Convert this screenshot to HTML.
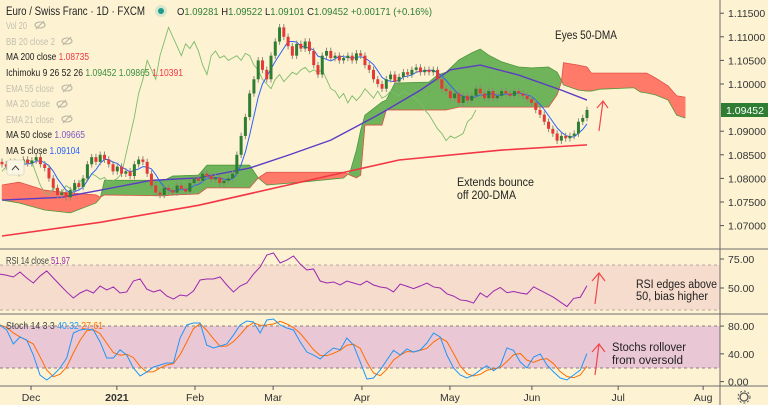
<!DOCTYPE html>
<html><head><meta charset="utf-8">
<style>
html,body{margin:0;padding:0;background:#fdf3d3;}
body{width:768px;height:405px;overflow:hidden;font-family:"Liberation Sans",sans-serif;}
svg{display:block}
</style></head>
<body>
<svg id="chart" width="768" height="405" xmlns="http://www.w3.org/2000/svg" font-family="Liberation Sans, sans-serif">
<rect x="0" y="0" width="768" height="405" fill="#fdf3d3"/>
<rect x="0" y="265" width="720" height="45" fill="#f5dccc"/>
<line x1="0" y1="265" x2="720" y2="265" stroke="#b9a7a0" stroke-dasharray="3,3"/>
<line x1="0" y1="310" x2="720" y2="310" stroke="#b9a7a0" stroke-dasharray="3,3"/>
<rect x="0" y="326" width="720" height="42" fill="#eac7d5"/>
<line x1="0" y1="326" x2="720" y2="326" stroke="#8a7d80" stroke-dasharray="3,3"/>
<line x1="0" y1="368" x2="720" y2="368" stroke="#8a7d80" stroke-dasharray="3,3"/>
<g id="cloud"></g>
<g id="lines"></g>
<g id="candles"></g>
<g id="osc"></g>
<line x1="0" y1="249" x2="768" y2="249" stroke="#6b6b6b"/>
<line x1="0" y1="314" x2="768" y2="314" stroke="#6b6b6b"/>
<line x1="0" y1="386" x2="768" y2="386" stroke="#6b6b6b"/>
<line x1="720" y1="0" x2="720" y2="405" stroke="#6b6b6b"/>
<g id="axes" font-size="10.5" fill="#333"></g>
<g font-size="11.5" fill="#1f1f1f" lengthAdjust="spacingAndGlyphs">
<text x="555" y="39" textLength="62" lengthAdjust="spacingAndGlyphs">Eyes 50-DMA</text>
<text x="457" y="186" textLength="77" lengthAdjust="spacingAndGlyphs">Extends bounce</text>
<text x="457" y="199" textLength="59" lengthAdjust="spacingAndGlyphs">off 200-DMA</text>
<text x="636" y="288" textLength="81" lengthAdjust="spacingAndGlyphs">RSI edges above</text>
<text x="636" y="300" textLength="72" lengthAdjust="spacingAndGlyphs">50, bias higher</text>
<text x="612" y="351" textLength="74" lengthAdjust="spacingAndGlyphs">Stochs rollover</text>
<text x="612" y="364" textLength="71" lengthAdjust="spacingAndGlyphs">from oversold</text>
</g>
<g stroke="#f2474b" stroke-width="1.2" fill="none">
<path d="M599 131 L603 101 M597 108 L603 101 L608 108"/>
<path d="M595 304 L599 273 M592 281 L599 273 L605 281"/>
<path d="M595 375 L599 344 M592 352 L599 344 L605 352"/>
</g>
<g font-size="12">
<text x="6" y="15" fill="#222" textLength="139" lengthAdjust="spacingAndGlyphs">Euro / Swiss Franc · 1D · FXCM</text>
<circle cx="161" cy="11" r="6" fill="#d7e6cf"/>
<circle cx="161" cy="11" r="3" fill="#1e9a8a"/>
<text x="177" y="15" font-size="10.5" fill="#2e7d32" textLength="255" lengthAdjust="spacingAndGlyphs"><tspan fill="#222">O</tspan>1.09281 <tspan fill="#222">H</tspan>1.09522 <tspan fill="#222">L</tspan>1.09101 <tspan fill="#222">C</tspan>1.09452 +0.00171 (+0.16%)</text>
</g>
<g font-size="10">
<text x="6" y="29" fill="#c4bfae" textLength="21" lengthAdjust="spacingAndGlyphs">Vol 20</text>
<text x="6" y="45" fill="#c4bfae" textLength="49" lengthAdjust="spacingAndGlyphs">BB 20 close 2</text>
<text x="6" y="60" fill="#222" textLength="83" lengthAdjust="spacingAndGlyphs">MA 200 close <tspan fill="#f23645">1.08735</tspan></text>
<text x="6" y="76" fill="#222" textLength="177" lengthAdjust="spacingAndGlyphs">Ichimoku 9 26 52 26 <tspan fill="#388e3c">1.09452</tspan> <tspan fill="#388e3c">1.09865</tspan> <tspan fill="#f23645">1.10391</tspan></text>
<text x="6" y="92" fill="#c4bfae" textLength="48" lengthAdjust="spacingAndGlyphs">EMA 55 close</text>
<text x="6" y="107" fill="#c4bfae" textLength="44" lengthAdjust="spacingAndGlyphs">MA 20 close</text>
<text x="6" y="123" fill="#c4bfae" textLength="48" lengthAdjust="spacingAndGlyphs">EMA 21 close</text>
<text x="6" y="138" fill="#222" textLength="79" lengthAdjust="spacingAndGlyphs">MA 50 close <tspan fill="#7e57c2">1.09665</tspan></text>
<text x="6" y="154" fill="#222" textLength="74" lengthAdjust="spacingAndGlyphs">MA 5 close <tspan fill="#2962ff">1.09104</tspan></text>
<text x="6" y="264" fill="#444" textLength="64" lengthAdjust="spacingAndGlyphs">RSI 14 close <tspan fill="#9c27b0">51.97</tspan></text>
<text x="6" y="329" fill="#444" textLength="97" lengthAdjust="spacingAndGlyphs">Stoch 14 3 3 <tspan fill="#2196f3">40.32</tspan> <tspan fill="#ff6d00">27.61</tspan></text>
</g>
<g stroke="#b9b4a3" fill="none" stroke-width="1.1">
<g><ellipse cx="40" cy="25" rx="5" ry="3"/><line x1="36" y1="29" x2="44" y2="21"/></g>
<g><ellipse cx="67" cy="41" rx="5" ry="3"/><line x1="63" y1="45" x2="71" y2="37"/></g>
<g><ellipse cx="67" cy="88" rx="5" ry="3"/><line x1="63" y1="92" x2="71" y2="84"/></g>
<g><ellipse cx="62" cy="104" rx="5" ry="3"/><line x1="58" y1="108" x2="66" y2="100"/></g>
<g><ellipse cx="67" cy="119" rx="5" ry="3"/><line x1="63" y1="123" x2="71" y2="115"/></g>
</g>
<g><rect x="7" y="160" width="17" height="15" rx="2" fill="#fbf6e6" stroke="#e4dcc4"/><path d="M12 170 L15.5 166 L19 170" stroke="#444" fill="none"/></g>
<rect x="721" y="103" width="47" height="14" fill="#2e7d32"/>
<text x="726" y="114" font-size="10.5" fill="#fff">1.09452</text>
<g><circle cx="744" cy="397" r="4" fill="none" stroke="#555" stroke-width="1.3"/><circle cx="744" cy="397" r="6" fill="none" stroke="#555" stroke-width="1" stroke-dasharray="2,2"/></g>
</svg>
<script>
// ---- price data ----
const closes = [1.0830,1.0825,1.0835,1.0820,1.0828,1.0840,1.0832,1.0838,1.0845,1.0830,1.0822,
1.0800,1.0780,1.0765,1.0770,1.0760,1.0775,1.0790,1.0782,1.0800,1.0830,1.0845,1.0835,1.0850,1.0840,
1.0830,1.0815,1.0825,1.0810,1.0815,1.0805,1.0830,1.0840,1.0835,1.0810,1.0785,1.0770,1.0765,
1.0780,1.0775,1.0770,1.0785,1.0778,1.0772,1.0790,1.0800,1.0795,1.0810,1.0805,1.0798,
1.0802,1.0790,1.0795,1.0800,1.0810,1.0850,1.0890,1.0930,1.0980,1.1010,1.1050,1.1030,
1.1010,1.1060,1.1090,1.1120,1.1100,1.1080,1.1060,1.1085,1.1075,1.1090,1.1070,1.1040,1.1020,1.1060,
1.1070,1.1055,1.1060,1.1050,1.1055,1.1060,1.1050,1.1065,1.1060,1.1040,1.1030,1.1010,1.1000,1.0990,
1.1010,1.1020,1.1005,1.1015,1.1025,1.1020,1.1030,1.1035,1.1025,1.1030,1.1025,1.1030,
1.1010,1.0990,1.0985,1.0970,1.0980,1.0960,1.0975,1.0965,1.0975,1.0990,1.0980,1.0970,
1.0985,1.0970,1.0975,1.0985,1.0980,1.0975,1.0985,1.0980,1.0975,1.0968,1.0960,1.0945,
1.0935,1.0920,1.0905,1.0895,1.0880,1.0890,1.0885,1.0890,1.0895,1.0920,1.0928,1.0945];
const firstOpen = 1.0835;
const ma200Idx = [0,23,46,67,93,117,137];
const ma200Vals = [1.0678,1.0707,1.0743,1.0786,1.0839,1.0860,1.0871];
const ma50Idx = [0,14,23,35,46,58,67,77,88,98,105,112,121,131,137];
const ma50Vals = [1.0754,1.0760,1.0775,1.0796,1.0801,1.0822,1.0849,1.0881,1.0934,1.0987,1.1030,1.1040,1.1019,1.0987,1.0966];
const cloudIdx = [0,4,10,16,22,23,24,38,40,46,48,58,60,62,70,80,81.5,83,84,85,89,90,92,100,102,104,107,110,112,114,117,121,124,128,130,131,131.5,135,137,138,140,148,149.5,151,153,156,158,160];
const spanA = [1.0754,1.0748,1.0733,1.0727,1.0748,1.0758,1.0796,1.0796,1.0805,1.0807,1.0828,1.0828,1.0801,1.0786,1.0792,1.0801,1.0813,1.0860,1.0902,1.0934,1.0962,1.0966,1.1002,1.1004,1.1019,1.1025,1.1051,1.1066,1.1074,1.1061,1.1047,1.1036,1.1034,1.1036,1.1025,1.1008,1.0998,1.0987,1.0985,1.0985,1.0989,1.0992,1.0983,1.0981,1.0977,1.0966,1.0934,1.0928];
const spanB = [1.0786,1.0792,1.0775,1.0769,1.0765,1.0760,1.0765,1.0763,1.0765,1.0767,1.0780,1.0780,1.0801,1.0813,1.0813,1.0813,1.0807,1.0801,1.0807,1.0913,1.0913,1.0945,1.0945,1.0945,1.0945,1.0945,1.0951,1.0951,1.0951,1.0951,1.0951,1.0951,1.0951,1.0951,1.0977,1.1004,1.1045,1.1040,1.1036,1.1023,1.1023,1.1023,1.1023,1.1023,1.1013,1.0996,1.0975,1.0972];
// ---- oscillators ----
const rsiVals = [62,61,59.5,63.8,58.6,54.3,60.3,64.7,58.6,52.6,46.6,41.4,45.7,48.3,45.7,51.7,48.3,50.9,45.7,46.6,56,57.8,49.1,46.6,48.3,43.1,40.5,44,43.1,47.4,56.9,57.8,57.8,59.5,52.6,46.6,51.7,54.3,62,68.1,78.4,80.2,71.6,74.1,77.6,70.7,65.5,66.4,56,54.3,55.2,52.6,56,54.3,52.6,56,52.6,50.9,50,46.6,53.4,
51.5,49.5,51.7,54.3,50.9,50,45,43,39.7,39,37,45.7,42,47.4,50.5,46,47,45.7,44.8,51,48,45,42,38,34,41,42,51.97];
const stochK = [81.6,74.4,54.2,64.3,59.9,38.3,9.5,2.3,9.5,19.6,34,70,74.4,75.8,74.4,57.3,34,34,45.8,38.3,19.6,8.1,13.8,20.9,23.9,26.8,26.8,62.8,81.6,84.4,84.4,52.6,48.4,51.3,54.2,67.1,81.6,87.3,85.9,70,88.8,90.2,81.6,77.2,74.4,57.3,42.6,38.3,32.6,41.2,48.4,45.8,62.8,52.6,28.5,3.7,5.2,16.7,31.1,45,38.3,
47,42.6,45.5,55.6,70,64.3,38.3,19.6,9.5,5.2,9.5,16.7,22.8,15.6,22.8,48.4,45,28.2,19.6,35.4,39.8,23.9,13.8,5.2,2.3,9.5,16.7,40.32];
// ---- axis labels ----
const priceTicks = [1.115,1.11,1.105,1.10,1.09,1.085,1.08,1.075,1.07];
const rsiTicks = [75,50];
const stochTicks = [80,40,0];
const timeLabels = ["Dec","2021","Feb","Mar","Apr","May","Jun","Jul","Aug"];
const timeIdx = [6.8,26.9,45.2,63.5,84.3,104.9,124.1,144.3,164.2];

const NS="http://www.w3.org/2000/svg";
const xC = i => 2 + i*4.27;
const yP = p => 84 - (p-1.10)*4720;
const xO = i => i*6.67;
const yR = v => 288 - (v-50)*1.16;
const yS = v => 381.6 - v*0.694;
function mk(tag, attrs, parent){const e=document.createElementNS(NS,tag);for(const k in attrs)e.setAttribute(k,attrs[k]);parent.appendChild(e);return e;}
const G = id => document.getElementById(id);

// cloud
const cloud=G('cloud');
for(let k=0;k<cloudIdx.length-1;k++){
  const x1=xC(cloudIdx[k]),x2=xC(cloudIdx[k+1]);
  const green=(spanA[k]+spanA[k+1])>=(spanB[k]+spanB[k+1]);
  const poly=mk('polygon',{points:`${x1},${yP(spanA[k])} ${x2},${yP(spanA[k+1])} ${x2},${yP(spanB[k+1])} ${x1},${yP(spanB[k])}`,fill:green?'#6fb35b':'#ff7a68',stroke:green?'#6fb35b':'#ff7a68','stroke-width':0.5},cloud);
  
  
}
const pA=cloudIdx.map((c,k)=>`${xC(c)},${yP(spanA[k])}`).join(' ');
const pB=cloudIdx.map((c,k)=>`${xC(c)},${yP(spanB[k])}`).join(' ');
const la=mk('polyline',{points:pA,fill:'none',stroke:'#4f9a3f','stroke-width':0.8},cloud);


const lb=mk('polyline',{points:pB,fill:'none',stroke:'#e0524a','stroke-width':0.8},cloud);



// lines
const lines=G('lines');
const chik=[];for(let i=26;i<closes.length;i++)chik.push(`${xC(i-26)},${yP(closes[i])}`);
const lc=mk('polyline',{points:chik.join(' '),fill:'none',stroke:'#7dbb6a','stroke-width':0.9},lines);


const m200=mk('polyline',{points:ma200Idx.map((c,k)=>`${xC(c)},${yP(ma200Vals[k])}`).join(' '),fill:'none',stroke:'#f23645','stroke-width':1.6},lines);


const m50=mk('polyline',{points:ma50Idx.map((c,k)=>`${xC(c)},${yP(ma50Vals[k])}`).join(' '),fill:'none',stroke:'#5b3cc4','stroke-width':1.4},lines);



// candles
const cg=G('candles');
let prev=firstOpen;const ma5=[];
closes.forEach((c,i)=>{
  const o=prev;prev=c;const up=c>=o;const x=xC(i);
  const col=up?'#2e7d32':'#e53935';
  const hi=Math.max(o,c)+0.0007, lo=Math.min(o,c)-0.0007;
  const w=mk('line',{x1:x,x2:x,y1:yP(hi),y2:yP(lo),stroke:'#8d8a7a','stroke-width':1},cg);
  
  
  const top=yP(Math.max(o,c)),h=Math.max(1,Math.abs(yP(o)-yP(c)));
  const b=mk('rect',{x:x-1.5,y:top,width:3,height:h,fill:col},cg);
  
  
  if(i>=4){let s=0;for(let k=i-4;k<=i;k++)s+=closes[k];ma5.push(`${x},${yP(s/5)}`);}
});
const m5=mk('polyline',{points:ma5.join(' '),fill:'none',stroke:'#2962ff','stroke-width':1},lines);



// oscillators
const og=G('osc');
const rl=mk('polyline',{points:rsiVals.map((v,i)=>`${xO(i)},${yR(v)}`).join(' '),fill:'none',stroke:'#9c27b0','stroke-width':1},og);


const stochD=stochK.map((v,i)=>{const a=stochK.slice(Math.max(0,i-2),i+1);return a.reduce((s,t)=>s+t,0)/a.length;});
const dl=mk('polyline',{points:stochD.map((v,i)=>`${xO(i)},${yS(v)}`).join(' '),fill:'none',stroke:'#ff6d00','stroke-width':1},og);


const kl=mk('polyline',{points:stochK.map((v,i)=>`${xO(i)},${yS(v)}`).join(' '),fill:'none',stroke:'#2196f3','stroke-width':1},og);



// axes
const ax=G('axes');
function tick(y,label,name){
  const l=mk('line',{x1:720,x2:724,y1:y,y2:y,stroke:'#555'},ax);
  
  
  const t=mk('text',{x:728,y:y+4},ax);t.textContent=label;
  
  
}
priceTicks.forEach(p=>tick(yP(p),p.toFixed(5),'price-axis'));
rsiTicks.forEach(v=>tick(yR(v),v.toFixed(2),'rsi-axis'));
stochTicks.forEach(v=>tick(yS(v),v.toFixed(2),'stoch-axis'));
timeLabels.forEach((s,k)=>{
  const x=xC(timeIdx[k]);
  const l=mk('line',{x1:x,x2:x,y1:386,y2:390,stroke:'#555'},ax);
  
  
  const t=mk('text',{x:x,y:401,'text-anchor':'middle','font-weight':s==='2021'?'bold':'normal'},ax);t.textContent=s;
  
  
});
</script>
</body></html>
